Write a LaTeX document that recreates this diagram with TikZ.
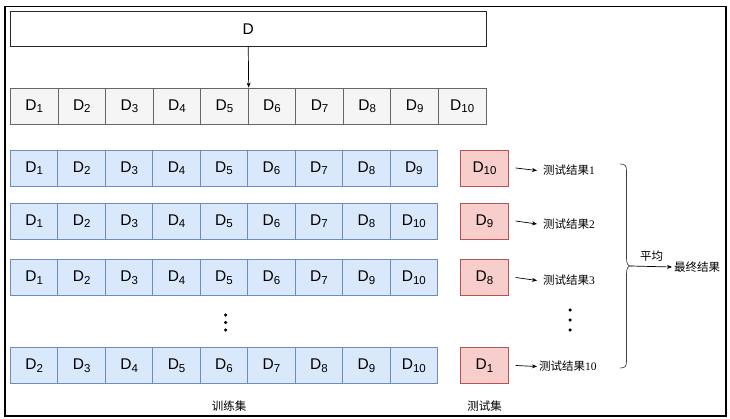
\documentclass[tikz,border=0pt]{standalone}
\usepackage{fontspec}
\setmainfont{Liberation Serif}
\newfontfamily\cellfont{Liberation Sans}
\newfontfamily\cjk{Noto Sans CJK SC}
\usetikzlibrary{arrows.meta}
\newcommand{\Dn}[1]{{\cellfont D\raisebox{-0.3ex}{\fontsize{11.5}{11.5}\selectfont #1}}}
\tikzset{
  cellbase/.style={draw, minimum width=47.5pt, minimum height=36pt, inner sep=0pt, line width=0.9pt, font=\cellfont\fontsize{15.5}{15.5}\selectfont},
  gcell/.style={cellbase, fill=black!4, draw=black!60},
  bcell/.style={cellbase, fill={rgb,255:red,218;green,232;blue,252}, draw={rgb,255:red,108;green,142;blue,191}},
  rcell/.style={cellbase, fill={rgb,255:red,248;green,206;blue,204}, draw={rgb,255:red,184;green,84;blue,80}},
  res/.style={anchor=west, inner sep=0pt, font=\fontsize{11.5}{11.5}\selectfont},
  lbl/.style={inner sep=0pt, font=\fontsize{11.5}{11.5}\selectfont},
  arr/.style={-{Stealth[length=5pt,width=4pt]}, line width=0.7pt},
  dot/.style={circle, fill=black, inner sep=0pt, minimum size=3.5pt}
}
\begin{document}
\begin{tikzpicture}[x=1pt,y=-1pt]
\useasboundingbox (0,0) rectangle (730,418);
\draw[line width=1.4pt] (5,6.5) rectangle (726,416);
% big D
\node[draw=black!85, line width=1pt, minimum width=475.5pt, minimum height=35pt, inner sep=0pt, font=\cellfont\fontsize{15.5}{15.5}\selectfont] (D) at (248.25,29.2) {D};
% gray row
\foreach \i in {1,...,10} {
  \node[gcell] (g\i) at ({10.5+47.55*(\i-0.5)},106) {\Dn{\i}};
}
\draw[arr] (D.south) -- (g5.north east);
% blue rows
\def\rowA{1,2,3,4,5,6,7,8,9}
\def\rowB{1,2,3,4,5,6,7,8,10}
\def\rowC{1,2,3,4,5,6,7,9,10}
\def\rowD{2,3,4,5,6,7,8,9,10}
\foreach \v [count=\i] in \rowA { \node[bcell] (a\i) at ({10.5+47.45*(\i-0.5)},168) {\Dn{\v}}; }
\foreach \v [count=\i] in \rowB { \node[bcell] (b\i) at ({10.5+47.45*(\i-0.5)},221) {\Dn{\v}}; }
\foreach \v [count=\i] in \rowC { \node[bcell] (c\i) at ({10.5+47.45*(\i-0.5)},277.5) {\Dn{\v}}; }
\foreach \v [count=\i] in \rowD { \node[bcell] (d\i) at ({10.5+47.45*(\i-0.5)},365.5) {\Dn{\v}}; }
% red boxes
\node[rcell] (r1) at (484.5,168) {\Dn{10}};
\node[rcell] (r2) at (484.5,221) {\Dn{9}};
\node[rcell] (r3) at (484.5,277.5) {\Dn{8}};
\node[rcell] (r4) at (484.5,365.5) {\Dn{1}};
% results
\node[res] (t1) at (543,170.5) {{\cjk 测试结果}1};
\node[res] (t2) at (543,224) {{\cjk 测试结果}2};
\node[res] (t3) at (543,280.5) {{\cjk 测试结果}3};
\node[res] (t4) at (539,366.5) {{\cjk 测试结果}10};
\draw[arr] ([xshift=7pt]r1.east) -- ([xshift=-6pt]t1.west);
\draw[arr] ([xshift=7pt]r2.east) -- ([xshift=-6pt]t2.west);
\draw[arr] ([xshift=7pt]r3.east) -- ([xshift=-6pt]t3.west);
\draw[arr] ([xshift=7pt]r4.east) -- ([xshift=-2pt]t4.west);
% dots
\node[dot] (ld1) at (225.7,315) {};
\node[dot] (ld2) at (225.7,322.5) {};
\node[dot] (ld3) at (225.7,330) {};
\node[dot] (rd1) at (570,310) {};
\node[dot] (rd2) at (570,320) {};
\node[dot] (rd3) at (570,330) {};
% brace
\coordinate (bt) at (620,164);
\coordinate (bm) at (631,266);
\coordinate (bb) at (620,368);
\draw[line width=0.7pt, black!75] (bt) .. controls (626,164) and (626.5,166) .. (626.5,172) -- (626.5,258) .. controls (626.5,264) and (628,266) .. (bm) .. controls (628,266) and (626.5,268) .. (626.5,274) -- (626.5,360) .. controls (626.5,366) and (626,368) .. (bb);
\node[res] (fin) at (674,267) {\cjk 最终结果};
\draw[arr] (bm) -- ([xshift=-2pt]fin.west);
\node[lbl] (avg) at (651.5,256) {\cjk 平均};
% labels
\node[lbl] (train) at (229,406.5) {\cjk 训练集};
\node[lbl] (test) at (484.5,406.5) {\cjk 测试集};
\end{tikzpicture}
\end{document}
